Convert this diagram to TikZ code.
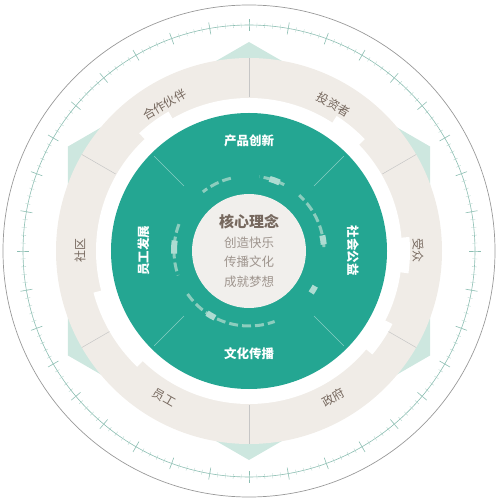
\documentclass[tikz,border=0pt]{standalone}
\usepackage{fontspec}
\newfontfamily\cjk{Noto Sans CJK SC}
\definecolor{ringteal}{RGB}{36,166,146}
\definecolor{paleteal}{RGB}{205,231,223}
\definecolor{dashteal}{RGB}{140,205,190}
\definecolor{beige}{RGB}{240,236,231}
\definecolor{coregray}{RGB}{241,239,236}
\definecolor{textbrown}{RGB}{118,104,94}
\definecolor{tickteal}{RGB}{140,190,178}

\begin{document}
\begin{tikzpicture}[x=1pt,y=1pt,
  outerlabel/.style={font=\cjk\fontsize{12}{12}\selectfont, text=textbrown},
  innerlabel/.style={font=\cjk\bfseries\fontsize{12.5}{13}\selectfont, text=white},
  corelabel/.style={font=\cjk\fontsize{12.5}{13}\selectfont, text=textbrown!70}]
\useasboundingbox (-249,-249) rectangle (250,251);

% Outer rim and ticks
\draw[gray!80, line width=0.7] (0,0) circle (246);
\draw[tickteal, line width=0.6] (0,0) circle (226);
\foreach \a in {0,10,...,350}
    \draw[tickteal, line width=0.6] (\a:220) -- (\a:232);
\foreach \a in {0,2,...,358}
    \draw[tickteal!70, line width=0.3] (\a:223.5) -- (\a:228.5);

% Hexagon behind the ring
\fill[paleteal] (30:209) \foreach \a in {90,150,...,330} {-- (\a:209)} -- cycle;

% Stakeholder ring
\fill[beige] (0,0) circle (193);
\foreach \a in {30,90,...,330}
    \draw[gray!45, line width=0.5] (\a:154) -- (\a:193);
\fill[white] (0,0) circle (153);
\foreach \a/\b in {44/57, 120/133, 195/226, -8/5, -40/-27}
    \fill[white] (\a:150) arc (\a:\b:150) -- (\b:161) arc (\b:\a:161) -- cycle;

% Value ring
\fill[ringteal] (0,0) circle (138);
\foreach \a in {45,135,225,315}
    \draw[ringteal!55!white, line width=0.6] (\a:92) -- (\a:134);

% Dashed ring
\foreach \a/\b in {104/128, 62/82, 3/48, 215/290, 159/199}
    \draw[dashteal, line width=3, dash pattern=on 9 off 4] (\a:75) arc (\a:\b:75);
\foreach \a/\b in {66/74, 5/12, -34/-28, 236/243, 172/182}
    \draw[dashteal!70!white, line width=6] (\a:75) arc (\a:\b:75);

% Core
\fill[coregray] (0,0) circle (57);
\node[corelabel, font=\cjk\bfseries\fontsize{15}{15}\selectfont, text=textbrown] (core) at (0,29) {核心理念};
\node[corelabel] (joy) at (0,8) {创造快乐};
\node[corelabel] (culturetxt) at (0,-11) {传播文化};
\node[corelabel] (dream) at (0,-31) {成就梦想};

% Value labels
\node[innerlabel] (product) at (90:110) {产品创新};
\node[innerlabel, rotate=-90] (charity) at (0:104) {社会公益};
\node[innerlabel] (culture) at (270:103) {文化传播};
\node[innerlabel, rotate=90] (staffdev) at (180:105) {员工发展};

% Stakeholder labels
\foreach \a/\r/\t/\n in {0/-90/受众/audience, 60/-30/投资者/investor, 120/30/合作伙伴/partner,
    180/90/社区/community, 240/-30/员工/staff, 300/30/政府/gov}
    \node[outerlabel, rotate=\r] (\n) at (\a:169) {\t};
\end{tikzpicture}
\end{document}
